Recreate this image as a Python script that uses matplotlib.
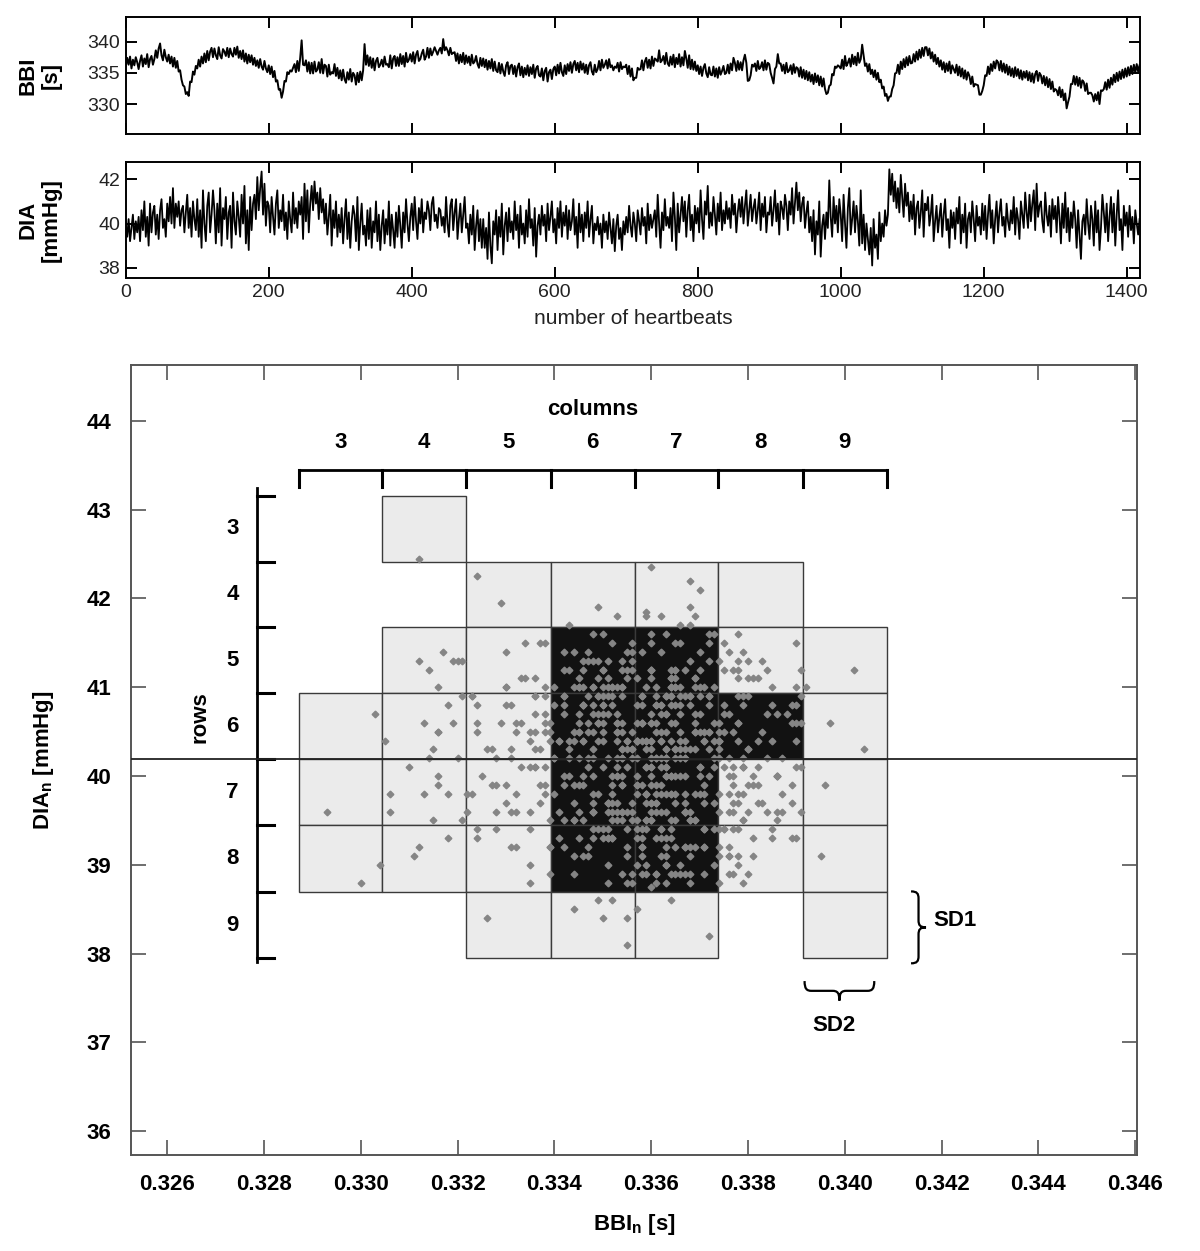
import numpy as np
import matplotlib.pyplot as plt
from matplotlib.patches import Rectangle, PathPatch
from matplotlib.path import Path

plt.rcParams['font.family'] = ['Liberation Sans', 'DejaVu Sans']
plt.rcParams['mathtext.fontset'] = 'custom'
plt.rcParams['mathtext.rm'] = 'Liberation Sans'
plt.rcParams['mathtext.bf'] = 'Liberation Sans:bold'

# every 2nd heartbeat
beats = np.arange(0, 1420, 2)

# beat-to-beat interval [ms]
bbi = [
    336.0, 337.4, 336.3, 337.6, 335.7, 337.1, 336.2, 337.5, 336.7, 335.6,
    336.9, 337.8, 336.0, 337.3, 336.4, 338.0, 335.9, 337.2, 337.7, 336.3,
    337.2, 338.6, 337.4, 338.9, 339.7, 337.8, 337.0, 338.7, 337.5, 336.8,
    337.9, 336.5, 337.6, 336.0, 337.4, 335.8, 336.9, 335.2, 335.4, 333.9,
    333.0, 332.8, 331.6, 331.9, 331.3, 333.6, 333.5, 335.2, 334.7, 336.1,
    335.7, 337.1, 336.0, 337.6, 336.5, 338.1, 336.7, 338.5, 337.0, 338.4,
    339.0, 337.5, 338.9, 337.8, 337.2, 339.1, 337.8, 337.3, 338.8, 338.4,
    337.7, 339.0, 337.5, 338.9, 338.0, 337.6, 339.0, 337.9, 339.2, 337.4,
    338.5, 337.2, 338.6, 336.8, 338.1, 336.5, 337.9, 336.7, 337.8, 336.3,
    337.4, 336.1, 337.0, 335.8, 337.2, 336.0, 335.5, 336.9, 335.7, 335.1,
    336.2, 334.8, 336.0, 334.3, 335.3, 333.6, 333.8, 332.3, 332.4, 331.0,
    332.0, 333.7, 333.6, 335.1, 334.8, 335.4, 335.2, 335.8, 336.4, 335.1,
    336.9, 335.3, 337.4, 340.2, 336.3, 336.2, 337.0, 335.2, 336.7, 334.9,
    336.6, 334.9, 336.8, 335.2, 335.5, 336.7, 335.0, 337.2, 334.9, 336.3,
    336.1, 334.4, 336.3, 334.7, 335.1, 334.9, 336.4, 334.5, 335.8, 334.1,
    335.4, 333.8, 335.5, 334.0, 333.4, 335.1, 333.9, 335.6, 333.6, 335.0,
    334.6, 333.1, 335.0, 333.5, 335.2, 333.8, 335.4, 339.6, 336.3, 337.8,
    336.1, 337.5, 335.8, 337.3, 335.4, 336.9, 337.4, 335.9, 336.3, 337.1,
    336.0, 337.6, 336.3, 336.4, 335.9, 337.8, 335.7, 337.3, 337.7, 336.1,
    337.5, 336.1, 338.0, 336.4, 337.7, 336.0, 338.2, 336.7, 337.1, 338.0,
    336.8, 338.3, 336.5, 337.9, 338.5, 336.9, 337.2, 338.1, 338.7, 337.1,
    337.6, 339.0, 337.4, 338.9, 337.8, 338.4, 339.1, 338.5, 337.9, 338.6,
    339.0, 338.1, 340.4, 338.6, 339.1, 338.6, 337.8, 339.0, 338.0, 338.2,
    338.3, 336.9, 338.1, 336.5, 337.9, 336.7, 338.2, 336.4, 337.8, 336.6,
    337.6, 336.2, 337.9, 336.5, 336.8, 337.7, 336.4, 335.8, 337.4, 336.1,
    337.3, 335.9, 337.1, 335.5, 336.9, 335.7, 337.2, 335.3, 336.8, 335.4,
    335.1, 336.6, 334.9, 336.4, 335.2, 334.5, 336.2, 336.7, 334.8, 336.1,
    336.3, 334.8, 336.1, 334.4, 335.9, 336.5, 334.6, 336.0, 334.3, 335.8,
    334.7, 336.2, 334.5, 335.9, 334.8, 336.3, 334.2, 335.7, 336.1, 334.6,
    334.4, 335.7, 333.8, 335.3, 335.8, 333.6, 335.1, 335.5, 334.0, 335.6,
    336.0, 334.6, 336.3, 334.9, 336.6, 335.1, 334.5, 336.2, 334.8, 336.4,
    335.3, 336.7, 335.0, 336.4, 336.9, 335.4, 336.6, 335.1, 336.8, 335.5,
    336.5, 335.0, 336.3, 334.8, 336.2, 336.7, 335.2, 334.7, 336.3, 335.1,
    335.6, 336.9, 335.4, 337.1, 335.8, 336.3, 337.0, 335.7, 337.2, 335.9,
    336.2, 335.4, 336.0, 335.8, 336.6, 335.2, 336.7, 335.6, 336.0, 335.9,
    336.3, 334.8, 336.1, 334.4, 335.7, 333.8, 334.2, 334.2, 335.8, 335.5,
    335.6, 337.0, 335.4, 336.8, 337.4, 335.8, 337.1, 335.7, 337.6, 336.1,
    337.3, 337.1, 336.8, 338.6, 336.7, 337.0, 337.7, 336.4, 338.2, 336.5,
    336.1, 337.6, 336.3, 337.9, 335.9, 337.4, 336.4, 338.0, 336.0, 337.5,
    336.2, 338.5, 337.3, 335.8, 337.8, 335.6, 337.1, 335.5, 336.8, 335.3,
    336.2, 334.8, 336.0, 334.5, 335.8, 336.4, 334.9, 334.3, 335.9, 334.7,
    334.6, 336.0, 334.4, 335.7, 334.2, 335.9, 334.7, 335.3, 336.1, 334.8,
    335.0, 336.3, 334.9, 336.5, 335.4, 337.4, 336.6, 335.3, 336.9, 335.5,
    336.7, 335.4, 337.0, 337.9, 336.6, 333.7, 333.8, 334.6, 336.3, 336.0,
    336.5, 335.3, 336.9, 335.6, 335.9, 336.7, 335.4, 337.0, 335.5, 336.6,
    336.4, 335.0, 334.2, 333.3, 335.6, 336.0, 338.0, 336.5, 336.5, 335.3,
    336.3, 334.9, 336.6, 335.1, 335.4, 336.2, 334.8, 336.4, 335.0, 335.9,
    335.7, 334.4, 335.9, 334.2, 335.5, 334.0, 335.3, 333.8, 335.1, 333.6,
    334.7, 333.2, 334.9, 333.5, 334.6, 333.0, 334.4, 332.8, 334.1, 332.4,
    331.6, 331.8, 332.9, 333.1, 334.8, 334.6, 336.0, 335.8, 336.2, 336.0,
    335.7, 337.1, 335.6, 337.7, 336.1, 336.6, 337.3, 336.0, 337.9, 336.4,
    337.6, 336.2, 338.2, 336.6, 337.2, 339.5, 337.8, 336.1, 336.5, 335.2,
    336.4, 334.8, 335.5, 334.3, 335.4, 333.9, 335.0, 333.5, 333.9, 332.5,
    332.8, 331.3, 331.6, 330.5, 331.2, 331.2, 332.4, 333.0, 334.9, 335.0,
    336.3, 334.8, 336.8, 335.6, 337.2, 335.9, 337.5, 336.2, 337.7, 336.5,
    336.6, 338.0, 336.8, 338.4, 337.1, 338.7, 337.4, 339.0, 337.7, 339.1,
    339.1, 337.8, 338.9, 337.3, 338.3, 336.8, 337.9, 336.4, 337.4, 336.0,
    337.0, 335.5, 336.7, 335.1, 336.5, 335.3, 336.8, 334.9, 336.2, 335.6,
    335.0, 336.3, 334.6, 336.0, 334.4, 335.7, 334.1, 335.4, 333.9, 335.1,
    334.5, 333.2, 334.4, 332.8, 333.2, 333.1, 333.0, 331.5, 331.5, 332.1,
    333.0, 334.6, 334.5, 336.0, 334.8, 336.4, 335.3, 336.8, 335.7, 337.0,
    336.7, 335.4, 336.9, 335.2, 336.5, 335.0, 336.3, 334.7, 336.0, 334.5,
    335.7, 334.3, 335.9, 334.5, 335.6, 334.1, 335.4, 333.9, 335.2, 334.2,
    335.3, 333.8, 335.1, 333.6, 334.9, 333.4, 334.8, 335.3, 333.7, 335.0,
    334.6, 333.3, 334.5, 333.0, 334.3, 332.7, 334.0, 332.4, 333.6, 332.0,
    332.4, 332.2, 331.4, 332.7, 331.1, 332.3, 330.6, 331.7, 329.3, 330.3,
    331.2, 333.2, 333.2, 334.5, 333.1, 334.4, 332.9, 334.2, 332.6, 333.8,
    333.5, 332.1, 333.3, 331.6, 331.8, 331.8, 331.4, 330.4, 331.6, 330.6,
    331.9, 330.0, 332.2, 332.1, 332.4, 333.5, 332.3, 333.9, 332.6, 334.2,
    333.1, 334.7, 333.5, 335.0, 333.7, 335.2, 334.0, 335.5, 334.2, 335.7,
    334.4, 335.9, 334.6, 336.1, 334.8, 336.3, 335.0, 336.4, 335.2, 336.2,
]

# diastolic blood pressure [mmHg]
dia = [
    39.9, 39.4, 40.2, 39.2, 39.8, 40.4, 39.3, 40.1, 39.6, 40.3,
    39.2, 40.6, 39.7, 41.0, 39.4, 40.3, 39.0, 40.9, 39.6, 40.5,
    40.8, 39.5, 40.4, 39.3, 40.6, 41.1, 39.8, 40.2, 39.4, 40.9,
    40.1, 41.2, 40.0, 41.6, 39.8, 40.9, 40.3, 41.0, 39.9, 40.6,
    40.8, 39.6, 40.5, 41.3, 39.8, 40.7, 39.4, 41.0, 40.2, 39.7,
    41.1, 39.4, 40.6, 38.9, 41.5, 40.0, 39.2, 40.8, 41.4, 39.6,
    40.4, 41.5, 40.6, 39.1, 40.9, 39.6, 41.6, 39.0, 40.7, 40.2,
    41.2, 39.3, 40.5, 40.8, 38.9, 41.4, 40.1, 39.5, 41.0, 40.3,
    39.4, 41.3, 40.0, 41.7, 39.1, 40.6, 38.8, 41.2, 39.7, 40.9,
    41.3, 40.2, 42.1, 40.6, 41.6, 42.35, 40.4, 41.8, 39.9, 41.0,
    40.8, 39.6, 41.2, 40.3, 39.5, 40.9, 41.5, 39.8, 40.6, 40.1,
    41.3, 39.7, 40.5, 39.3, 41.0, 40.2, 39.6, 41.4, 40.0, 40.7,
    39.8, 41.0, 40.4, 41.2, 39.3, 41.8, 40.1, 41.5, 39.6, 40.9,
    41.7, 40.6, 41.9, 40.9, 41.4, 40.2, 41.6, 40.5, 41.1, 40.0,
    40.9, 39.5, 40.3, 41.3, 39.0, 40.6, 39.8, 41.0, 39.4, 40.4,
    39.6, 40.7, 39.1, 40.2, 41.1, 39.3, 40.5, 38.9, 40.1, 40.8,
    40.4, 39.2, 41.2, 38.8, 40.0, 40.9, 39.5, 39.9, 39.0, 40.6,
    39.3, 40.7, 38.9, 40.1, 39.6, 41.0, 39.2, 40.4, 38.8, 39.9,
    40.6, 39.1, 40.2, 39.5, 41.0, 39.0, 40.4, 39.7, 38.9, 40.5,
    39.4, 40.8, 39.9, 38.9, 40.5, 39.6, 41.1, 40.0, 39.2, 40.3,
    40.9, 39.7, 41.2, 40.1, 39.3, 40.7, 40.0, 41.1, 39.6, 40.5,
    40.2, 41.0, 40.6, 39.7, 40.9, 41.2, 40.1, 40.4, 39.8, 40.7,
    40.6, 39.9, 40.3, 39.6, 41.2, 40.0, 39.4, 40.8, 41.1, 39.7,
    40.5, 41.1, 39.3, 40.2, 40.9, 39.6, 40.4, 41.2, 39.8, 40.0,
    39.1, 40.4, 39.5, 40.8, 38.8, 39.9, 40.6, 39.2, 40.2, 38.9,
    40.2, 38.9, 39.8, 38.4, 40.5, 39.0, 38.2, 40.1, 39.5, 40.6,
    38.8, 40.3, 39.4, 40.9, 38.6, 39.9, 40.5, 39.2, 40.7, 39.6,
    40.1, 39.3, 41.0, 39.7, 40.4, 38.9, 40.8, 39.5, 40.0, 39.1,
    40.6, 39.4, 41.1, 39.8, 40.2, 39.0, 40.7, 38.5, 39.9, 40.4,
    39.5, 40.8, 39.9, 40.4, 39.2, 40.9, 39.7, 40.3, 41.0, 39.6,
    40.2, 39.1, 40.7, 39.8, 41.0, 39.4, 40.5, 39.9, 40.8, 39.3,
    40.6, 39.7, 40.1, 41.1, 39.5, 40.3, 38.9, 40.9, 39.6, 40.4,
    39.2, 40.5, 39.8, 41.0, 39.4, 40.2, 40.8, 39.1, 40.0, 39.7,
    40.3, 39.5, 40.0, 38.9, 40.4, 39.6, 40.1, 39.3, 40.5, 39.8,
    39.1, 40.2, 38.75, 39.9, 40.4, 39.3, 39.8, 38.8, 40.1, 39.5,
    40.3, 39.6, 40.8, 39.9, 39.4, 40.5, 40.0, 39.2, 40.6, 40.1,
    39.5, 40.7, 39.9, 40.3, 39.1, 40.9, 39.7, 40.4, 39.8, 40.2,
    40.6, 39.4, 41.3, 40.0, 38.9, 40.5, 39.7, 41.1, 39.9, 40.3,
    39.8, 40.7, 39.2, 41.4, 40.3, 38.8, 40.9, 39.6, 40.4, 41.2,
    40.1, 41.0, 39.4, 40.6, 41.3, 39.7, 40.4, 39.2, 40.8, 40.0,
    40.7, 39.6, 41.5, 40.2, 39.3, 41.0, 40.4, 41.7, 39.8, 40.5,
    39.9, 41.2, 40.4, 39.5, 40.9, 40.1, 41.4, 39.7, 40.6, 40.0,
    41.0, 40.2, 40.7, 39.8, 41.3, 40.4, 40.9, 39.6, 40.5, 41.1,
    40.3, 41.2, 40.0, 40.8, 41.5, 39.9, 40.6, 41.3, 40.1, 40.7,
    41.1, 40.0, 40.6, 41.4, 39.7, 40.9, 40.3, 41.2, 39.6, 40.5,
    40.4, 41.2, 39.9, 40.6, 41.5, 40.1, 40.9, 39.5, 41.0, 40.7,
    40.2, 41.3, 40.8, 39.7, 41.0, 40.4, 41.6, 40.0, 40.9, 41.85,
    40.6, 41.4, 40.1, 40.9, 41.2, 39.8, 40.5, 41.0, 39.6, 40.3,
    39.2, 40.6, 38.6, 40.1, 39.5, 41.0, 38.5, 39.9, 40.4, 39.3,
    40.5, 39.8, 41.95, 40.3, 39.4, 41.2, 40.0, 40.8, 39.6, 41.1,
    40.4, 39.2, 41.3, 40.0, 38.9, 40.7, 41.6, 39.5, 40.2, 41.0,
    39.6, 40.8, 40.1, 39.0, 41.5, 39.1, 40.4, 38.8, 40.0, 39.3,
    38.6, 39.8, 38.1, 40.2, 38.9, 39.5, 38.4, 40.5, 39.2, 40.0,
    39.4, 40.6, 39.9, 40.4, 42.45, 41.3, 42.25, 41.0, 41.9, 40.7,
    41.6, 40.5, 42.2, 41.2, 40.3, 41.8, 40.8, 41.4, 40.1, 41.0,
    40.2, 41.3, 39.5, 40.7, 41.0, 39.8, 40.5, 41.5, 39.4, 40.9,
    40.6, 41.2, 39.9, 40.4, 41.3, 39.2, 40.1, 40.8, 39.6, 40.3,
    40.9, 39.4, 40.4, 41.1, 39.7, 40.2, 38.9, 40.6, 39.8, 40.5,
    39.3, 40.7, 40.0, 41.2, 39.1, 40.4, 39.6, 40.9, 38.9, 40.2,
    40.5, 39.6, 41.0, 40.2, 39.2, 40.8, 39.9, 40.3, 39.5, 40.9,
    39.7, 40.8, 39.3, 40.4, 41.3, 39.8, 40.6, 39.1, 40.2, 41.0,
    39.6, 40.5, 41.1, 39.9, 40.3, 39.4, 40.9, 40.1, 39.7, 40.6,
    40.0, 41.2, 39.5, 40.7, 40.2, 39.3, 41.0, 40.4, 39.8, 41.4,
    40.5, 39.8, 41.3, 40.1, 40.9, 41.5, 39.7, 41.8, 40.3, 40.8,
    41.0, 40.1, 39.6, 41.4, 40.4, 39.9, 40.8, 39.4, 41.1, 40.2,
    40.8, 39.6, 41.2, 40.3, 39.1, 40.9, 39.8, 41.4, 39.6, 40.7,
    39.2, 40.5, 39.8, 41.0, 40.2, 38.9, 40.6, 39.5, 38.4, 40.1,
    40.4, 39.5, 41.1, 40.0, 39.3, 40.8, 40.2, 39.0, 41.0, 39.6,
    40.6, 38.8, 39.8, 41.3, 40.5, 39.6, 40.9, 39.2, 40.3, 41.2,
    39.6, 40.9, 39.0, 40.4, 41.5, 39.7, 40.2, 38.8, 40.8, 39.9,
    40.5, 39.4, 40.8, 39.7, 40.3, 39.1, 40.6, 40.0, 39.5, 40.2,
]

# grid of the symbolic dynamics (columns along BBI, rows along DIA)
col_labels = [3, 4, 5, 6, 7, 8, 9]
row_labels = [3, 4, 5, 6, 7, 8, 9]
col_edges = [0.32872, 0.33044, 0.33218, 0.33392, 0.33566, 0.33739, 0.33913, 0.34087]
row_edges = [43.16, 42.41, 41.68, 40.93, 40.19, 39.45, 38.69, 37.95]
# 0 = empty, 1 = occupied, 2 = frequently occupied
cell_state = [
    [0, 1, 0, 0, 0, 0, 0],
    [0, 0, 1, 1, 1, 1, 0],
    [0, 1, 1, 2, 2, 1, 1],
    [1, 1, 1, 2, 2, 2, 1],
    [1, 1, 1, 2, 2, 1, 1],
    [1, 1, 1, 2, 2, 1, 1],
    [0, 0, 1, 1, 1, 0, 1],
]

bbi = np.array(bbi)
dia = np.array(dia)
assert len(bbi) == len(beats) == len(dia)

fig = plt.figure(figsize=(12, 12.51), dpi=100)

# ---- time series ----
ax1 = fig.add_axes([0.1048, 0.8929, 0.8452, 0.0933])
ax2 = fig.add_axes([0.1048, 0.7775, 0.8452, 0.0928])

ax1.plot(beats, bbi, color='black', lw=1.4)
ax1.set_ylim(325.2, 343.9)
ax1.set_yticks([330, 335, 340])

ax2.plot(beats, dia, color='black', lw=1.3)
ax2.set_ylim(37.52, 42.77)
ax2.set_yticks([38, 40, 42])

for ax in (ax1, ax2):
    ax.set_xlim(0, 1418.6)
    ax.set_xticks(np.arange(0, 1401, 200))
    ax.tick_params(direction='in', top=True, right=True, length=8, width=1.4,
                   labelsize=14, labelcolor='#222222', pad=4)
    for s in ax.spines.values():
        s.set_linewidth(1.4)
ax1.tick_params(labelbottom=False)
ax2.set_xlabel('number of heartbeats', fontsize=15, color='#222222', labelpad=6)

fig.text(0.033, 0.9396, 'BBI\n[s]', rotation=90, fontsize=16, fontweight='bold',
         ha='center', va='center', multialignment='center', linespacing=1.1)
fig.text(0.033, 0.8241, 'DIA\n[mmHg]', rotation=90, fontsize=16, fontweight='bold',
         ha='center', va='center', multialignment='center', linespacing=1.1)

# ---- scatter with partition ----
ax3 = fig.add_axes([0.1092, 0.0767, 0.8383, 0.6315])
ax3.set_xlim(0.32525, 0.34604)
ax3.set_ylim(35.73, 44.63)

shade = {1: '#ebebeb', 2: '#121212'}
for i in range(len(row_labels)):
    for j in range(len(col_labels)):
        st = cell_state[i][j]
        if st == 0:
            continue
        x0, x1 = col_edges[j], col_edges[j + 1]
        y0, y1 = row_edges[i + 1], row_edges[i]
        ax3.add_patch(Rectangle((x0, y0), x1 - x0, y1 - y0, facecolor=shade[st],
                                edgecolor='#3a3a3a', lw=1.0, zorder=1))

ax3.plot(bbi / 1000, dia, linestyle='none', marker='D', ms=3.4,
         color='#858585', mec='#858585', zorder=3)
ax3.axhline(row_edges[4], color='#222222', lw=1.3, zorder=4)

# column bracket
ybr, ytk = 43.45, 43.26
ax3.plot([col_edges[0], col_edges[-1]], [ybr, ybr], color='black', lw=2, solid_capstyle='butt')
for x in col_edges:
    ax3.plot([x, x], [ybr, ytk], color='black', lw=2.2)
for j, lab in enumerate(col_labels):
    ax3.text((col_edges[j] + col_edges[j + 1]) / 2, 43.76, str(lab), fontsize=16,
             fontweight='bold', ha='center', va='center')
ax3.text((col_edges[0] + col_edges[-1]) / 2, 44.13, 'columns', fontsize=16,
         fontweight='bold', ha='center', va='center')

# row bracket
xbr, xtk = 0.32786, 0.32820
ax3.plot([xbr, xbr], [row_edges[0] + 0.08, row_edges[-1] - 0.05], color='black', lw=2)
for y in row_edges:
    ax3.plot([xbr, xtk], [y, y], color='black', lw=2.2)
for i, lab in enumerate(row_labels):
    ax3.text(0.32735, (row_edges[i] + row_edges[i + 1]) / 2, str(lab), fontsize=16,
             fontweight='bold', ha='center', va='center')
ax3.text(0.32667, 40.66, 'rows', fontsize=16, fontweight='bold', rotation=90,
         ha='center', va='center')


def brace(ax, p0, p1, depth):
    # curly brace from p0 to p1, tip pushed out along depth
    tu = [(0, 0), (0, 0.4), (0.03, 0.5), (0.1, 0.5), (0.4, 0.5),
          (0.47, 0.5), (0.5, 0.6), (0.5, 1), (0.5, 0.6), (0.53, 0.5), (0.6, 0.5),
          (0.9, 0.5), (0.97, 0.5), (1, 0.4), (1, 0)]
    codes = [Path.MOVETO, Path.CURVE4, Path.CURVE4, Path.CURVE4, Path.LINETO,
             Path.CURVE4, Path.CURVE4, Path.CURVE4, Path.CURVE4, Path.CURVE4, Path.CURVE4,
             Path.LINETO, Path.CURVE4, Path.CURVE4, Path.CURVE4]
    p0, p1, depth = np.array(p0), np.array(p1), np.array(depth)
    verts = [p0 + t * (p1 - p0) + u * depth for t, u in tu]
    ax.add_patch(PathPatch(Path(verts, codes), fill=False, lw=1.6, color='black'))


brace(ax3, (0.34137, row_edges[6] + 0.01), (0.34137, row_edges[7] - 0.06), (0.00031, 0))
ax3.text(0.34184, 38.37, 'SD1', fontsize=16, fontweight='bold', ha='left', va='center')
brace(ax3, (col_edges[6] + 0.00004, 37.69), (col_edges[7] - 0.00026, 37.69), (0, -0.22))
ax3.text(0.33977, 37.19, 'SD2', fontsize=16, fontweight='bold', ha='center', va='center')

ax3.set_xticks(np.round(np.arange(0.326, 0.3461, 0.002), 3))
ax3.set_xticklabels(['%.3f' % v for v in ax3.get_xticks()])
ax3.set_yticks(np.arange(36, 45, 1))
ax3.tick_params(direction='in', top=True, right=True, length=11, width=1.2,
                color='#555555', labelsize=16, pad=14)
for lab in ax3.get_xticklabels() + ax3.get_yticklabels():
    lab.set_fontweight('bold')
for s in ax3.spines.values():
    s.set_color('#555555')
    s.set_linewidth(1.4)

ax3.set_xlabel(r'BBI$_\mathregular{n}$ [s]', fontsize=16, fontweight='bold', labelpad=12)
ax3.set_ylabel(r'DIA$_\mathregular{n}$ [mmHg]', fontsize=16, fontweight='bold', labelpad=22)

fig.savefig('out.png', dpi=100)
